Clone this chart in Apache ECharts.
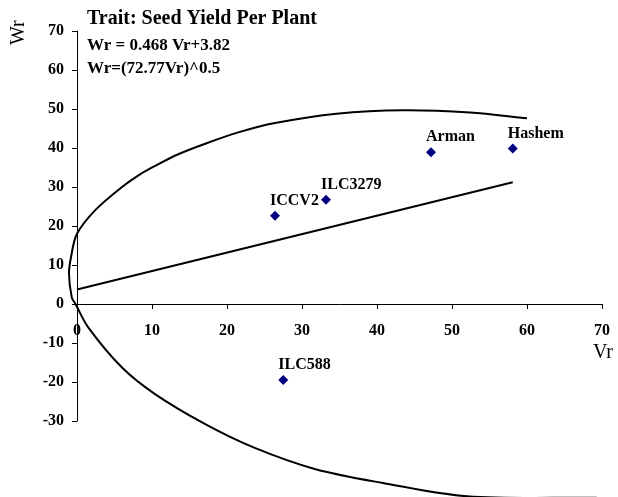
<!DOCTYPE html>
<html>
<head>
<meta charset="utf-8">
<script src="https://cdn.jsdelivr.net/npm/echarts@6/dist/echarts.min.js"></script>
<style>
  html, body { margin: 0; padding: 0; background: #fff; }
  #chart { width: 618px; height: 497px; }
</style>
</head>
<body>
<div id="chart"></div>
<script>
  // genotypes (Vr, Wr)
  var genotypes = ['ICCV2', 'ILC3279', 'Arman', 'Hashem', 'ILC588'];
  var vrValues = [26.4, 33.2, 47.2, 58.1, 27.5];
  var wrValues = [22.6, 26.7, 38.9, 39.9, -19.5];

  // regression line Wr = 0.468 Vr + 3.82 (end points)
  var regVr = [0, 58.1];
  var regWr = [3.7, 31.2];

  // limiting curve
  var curveVr = [60, 52.4, 43.5, 34.6, 26.4, 21.5, 17.1, 13.5, 10.4, 8.2, 6.0, 2.4, 0, -0.8, -1.07, -0.7, -0.2, 1.5, 6.0, 10.4, 17.1, 23.7, 31.7, 40.8, 52.0, 69.3];
  var curveWr = [47.6, 49.1, 49.7, 48.8, 46.4, 44.0, 41.1, 38.4, 35.4, 33.0, 30.0, 24.0, 18.0, 12.0, 7.8, 1.7, 0, -6, -16.3, -23.1, -30.8, -36.9, -42.3, -45.9, -49.3, -49.7];

  var FONT = '"Liberation Serif", "Times New Roman", serif';

  // smooth path through projected points (tangent from neighbours, handle = 1/3 of segment)
  function smoothPath (pts) {
    var n = pts.length
    var tan = pts.map(function (p, i) {
      var a = pts[Math.max(i - 1, 0)]
      var b = pts[Math.min(i + 1, n - 1)]
      var dx = b[0] - a[0], dy = b[1] - a[1]
      var len = Math.sqrt(dx * dx + dy * dy) || 1
      return [dx / len, dy / len]
    })
    var d = 'M' + pts[0][0] + ' ' + pts[0][1]
    for (var i = 0; i < n - 1; i++) {
      var p1 = pts[i], p2 = pts[i + 1]
      var seg = Math.sqrt(Math.pow(p2[0] - p1[0], 2) + Math.pow(p2[1] - p1[1], 2)) / 3
      d += ' C' + (p1[0] + tan[i][0] * seg) + ' ' + (p1[1] + tan[i][1] * seg) +
        ' ' + (p2[0] - tan[i + 1][0] * seg) + ' ' + (p2[1] - tan[i + 1][1] * seg) +
        ' ' + p2[0] + ' ' + p2[1]
    }
    return d
  }

  var chart = echarts.init(document.getElementById('chart'))

  var axisLabel = {
    color: '#000',
    fontFamily: FONT,
    fontWeight: 'bold',
    fontSize: 16
  }

  var option = {
    animation: false,
    backgroundColor: '#fff',
    grid: { left: 77, right: 16, top: 31, bottom: 76 },
    xAxis: {
      type: 'value',
      min: 0,
      max: 70,
      interval: 10,
      offset: -117,
      splitLine: { show: false },
      axisLine: { onZero: false, lineStyle: { color: '#000', width: 1 } },
      axisTick: { show: true, length: 5, lineStyle: { color: '#000' } },
      axisLabel: Object.assign({ margin: 19 }, axisLabel)
    },
    yAxis: {
      type: 'value',
      min: -30,
      max: 70,
      interval: 10,
      splitLine: { show: false },
      axisLine: { show: true, onZero: false, lineStyle: { color: '#000', width: 1 } },
      axisTick: { show: true, length: 5, lineStyle: { color: '#000' } },
      axisLabel: Object.assign({ margin: 13 }, axisLabel)
    },
    graphic: [
      { type: 'text', left: 87, top: 9, style: { text: 'Trait: Seed Yield Per Plant', font: 'bold 20px ' + FONT, fill: '#000' } },
      { type: 'text', left: 87, top: 37, style: { text: 'Wr = 0.468 Vr+3.82', font: 'bold 17px ' + FONT, fill: '#000' } },
      { type: 'text', left: 87, top: 60, style: { text: 'Wr=(72.77Vr)^0.5', font: 'bold 17px ' + FONT, fill: '#000' } },
      { type: 'text', x: 593, y: 343, style: { text: 'Vr', font: '20px ' + FONT, fill: '#000' } },
      { type: 'text', x: 9, y: 45, rotation: Math.PI / 2, style: { text: 'Wr', font: '20px ' + FONT, fill: '#000' } }
    ],
    series: [
      {
        name: 'curve',
        type: 'custom',
        clip: false,
        silent: true,
        data: [[0, 0]],
        encode: { x: 0, y: 1 },
        renderItem: function (params, api) {
          var pts = curveVr.map(function (v, i) {
            return api.coord([v, curveWr[i]])
          })
          return {
            type: 'path',
            shape: { pathData: smoothPath(pts) },
            style: { stroke: '#000', lineWidth: 2, fill: null }
          }
        }
      },
      {
        name: 'regression',
        type: 'custom',
        clip: false,
        silent: true,
        data: [[0, 0]],
        encode: { x: 0, y: 1 },
        renderItem: function (params, api) {
          var pts = regVr.map(function (v, i) {
            return api.coord([v, regWr[i]])
          })
          return {
            type: 'polyline',
            shape: { points: pts },
            style: { stroke: '#000', lineWidth: 2, fill: null }
          }
        }
      },
      {
        name: 'genotypes',
        type: 'scatter',
        symbol: 'diamond',
        symbolSize: 10,
        itemStyle: { color: '#000080', opacity: 1 },
        data: genotypes.map(function (g, i) {
          return { name: g, value: [vrValues[i], wrValues[i]] }
        }),
        label: {
          show: true,
          formatter: '{b}',
          position: [0, -10],
          align: 'left',
          verticalAlign: 'middle',
          color: '#000',
          fontFamily: FONT,
          fontWeight: 'bold',
          fontSize: 16
        }
      }
    ]
  }

  chart.setOption(option)
</script>
</body>
</html>
